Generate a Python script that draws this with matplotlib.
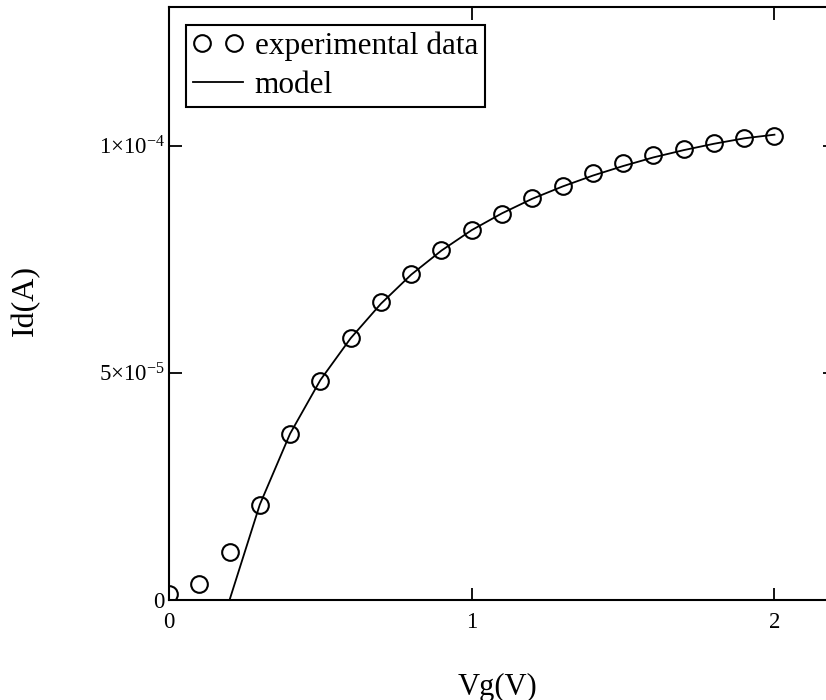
import matplotlib
matplotlib.use("Agg")
import matplotlib.pyplot as plt
from matplotlib.ticker import FixedLocator, FixedFormatter
from matplotlib.legend_handler import HandlerLine2D

plt.rcParams['font.family'] = ['Liberation Serif', 'DejaVu Serif']
plt.rcParams['mathtext.fontset'] = 'custom'
plt.rcParams['mathtext.rm'] = 'Liberation Serif'
plt.rcParams['mathtext.it'] = 'Liberation Serif:italic'

# Data (Id in microamperes, converted to amperes below)
exp_vg = [0.0, 0.1, 0.2, 0.3, 0.4, 0.5, 0.6, 0.7, 0.8, 0.9, 1.0,
          1.1, 1.2, 1.3, 1.4, 1.5, 1.6, 1.7, 1.8, 1.9, 2.0]
exp_id_uA = [1.4, 3.6, 10.5, 21.0, 36.5, 48.3, 57.6, 65.5, 71.7, 77.0, 81.4,
             84.9, 88.4, 91.1, 93.9, 96.1, 97.9, 99.2, 100.5, 101.6, 102.1]

model_vg = [0.2, 0.3, 0.4, 0.5, 0.6, 0.7, 0.8, 0.9, 1.0,
            1.1, 1.2, 1.3, 1.4, 1.5, 1.6, 1.7, 1.8, 1.9, 2.0]
model_id_uA = [0.0, 21.0, 36.6, 48.4, 57.6, 65.2, 71.6, 76.9, 81.4,
               85.1, 88.3, 91.0, 93.4, 95.5, 97.4, 99.0, 100.4, 101.6, 102.4]

x_ticks = [0, 1, 2]
x_tick_labels = ["0", "1", "2"]
y_ticks = [0, 5e-5, 1e-4]
y_tick_labels = ["0", r"5$\times$10$^{\mathrm{-5}}$", r"1$\times$10$^{\mathrm{-4}}$"]

exp_id = [v * 1e-6 for v in exp_id_uA]
model_id = [v * 1e-6 for v in model_id_uA]

W, H = 826, 700
fig = plt.figure(figsize=(W / 100, H / 100), dpi=100)
ax = fig.add_axes([169 / W, 100 / H, 666 / W, 593 / H])

model_line, = ax.plot(model_vg, model_id, color='black', lw=1.3, label='model', zorder=2)
exp_line, = ax.plot(exp_vg, exp_id, linestyle='none', marker='o', markersize=12,
                    markerfacecolor='none', markeredgecolor='black', markeredgewidth=1.5,
                    label='experimental data', zorder=3)

ax.set_xlim(0, 2.2)
ax.set_ylim(0, 1.305e-4)

ax.xaxis.set_major_locator(FixedLocator(x_ticks))
ax.xaxis.set_major_formatter(FixedFormatter(x_tick_labels))
ax.yaxis.set_major_locator(FixedLocator(y_ticks))
ax.yaxis.set_major_formatter(FixedFormatter(y_tick_labels))

ax.tick_params(axis='both', direction='in', length=9, width=1.3,
               top=True, right=True, labelsize=16.5, colors='black')
ax.tick_params(axis='x', pad=9)
ax.tick_params(axis='y', pad=3)
for s in ax.spines.values():
    s.set_linewidth(1.5)

fig.text(498 / W, 1 - 687 / H, "Vg(V)", fontsize=22, ha='center', va='center')
fig.text(25 / W, 1 - 301 / H, "Id(A)", fontsize=23, ha='center', va='center',
         rotation=90)

leg = ax.legend([exp_line, model_line], ['experimental data', 'model'], loc='upper left',
                bbox_to_anchor=(186 / W, 1 - 25 / H), bbox_transform=fig.transFigure,
                fontsize=22.5, numpoints=2, frameon=True, fancybox=False,
                edgecolor='black', framealpha=1, handlelength=1.6,
                handletextpad=0.38, borderpad=0.22, labelspacing=0.3,
                borderaxespad=0,
                handler_map={model_line: HandlerLine2D(numpoints=1)})
leg.get_frame().set_linewidth(1.5)

fig.savefig("out.png", dpi=100)
